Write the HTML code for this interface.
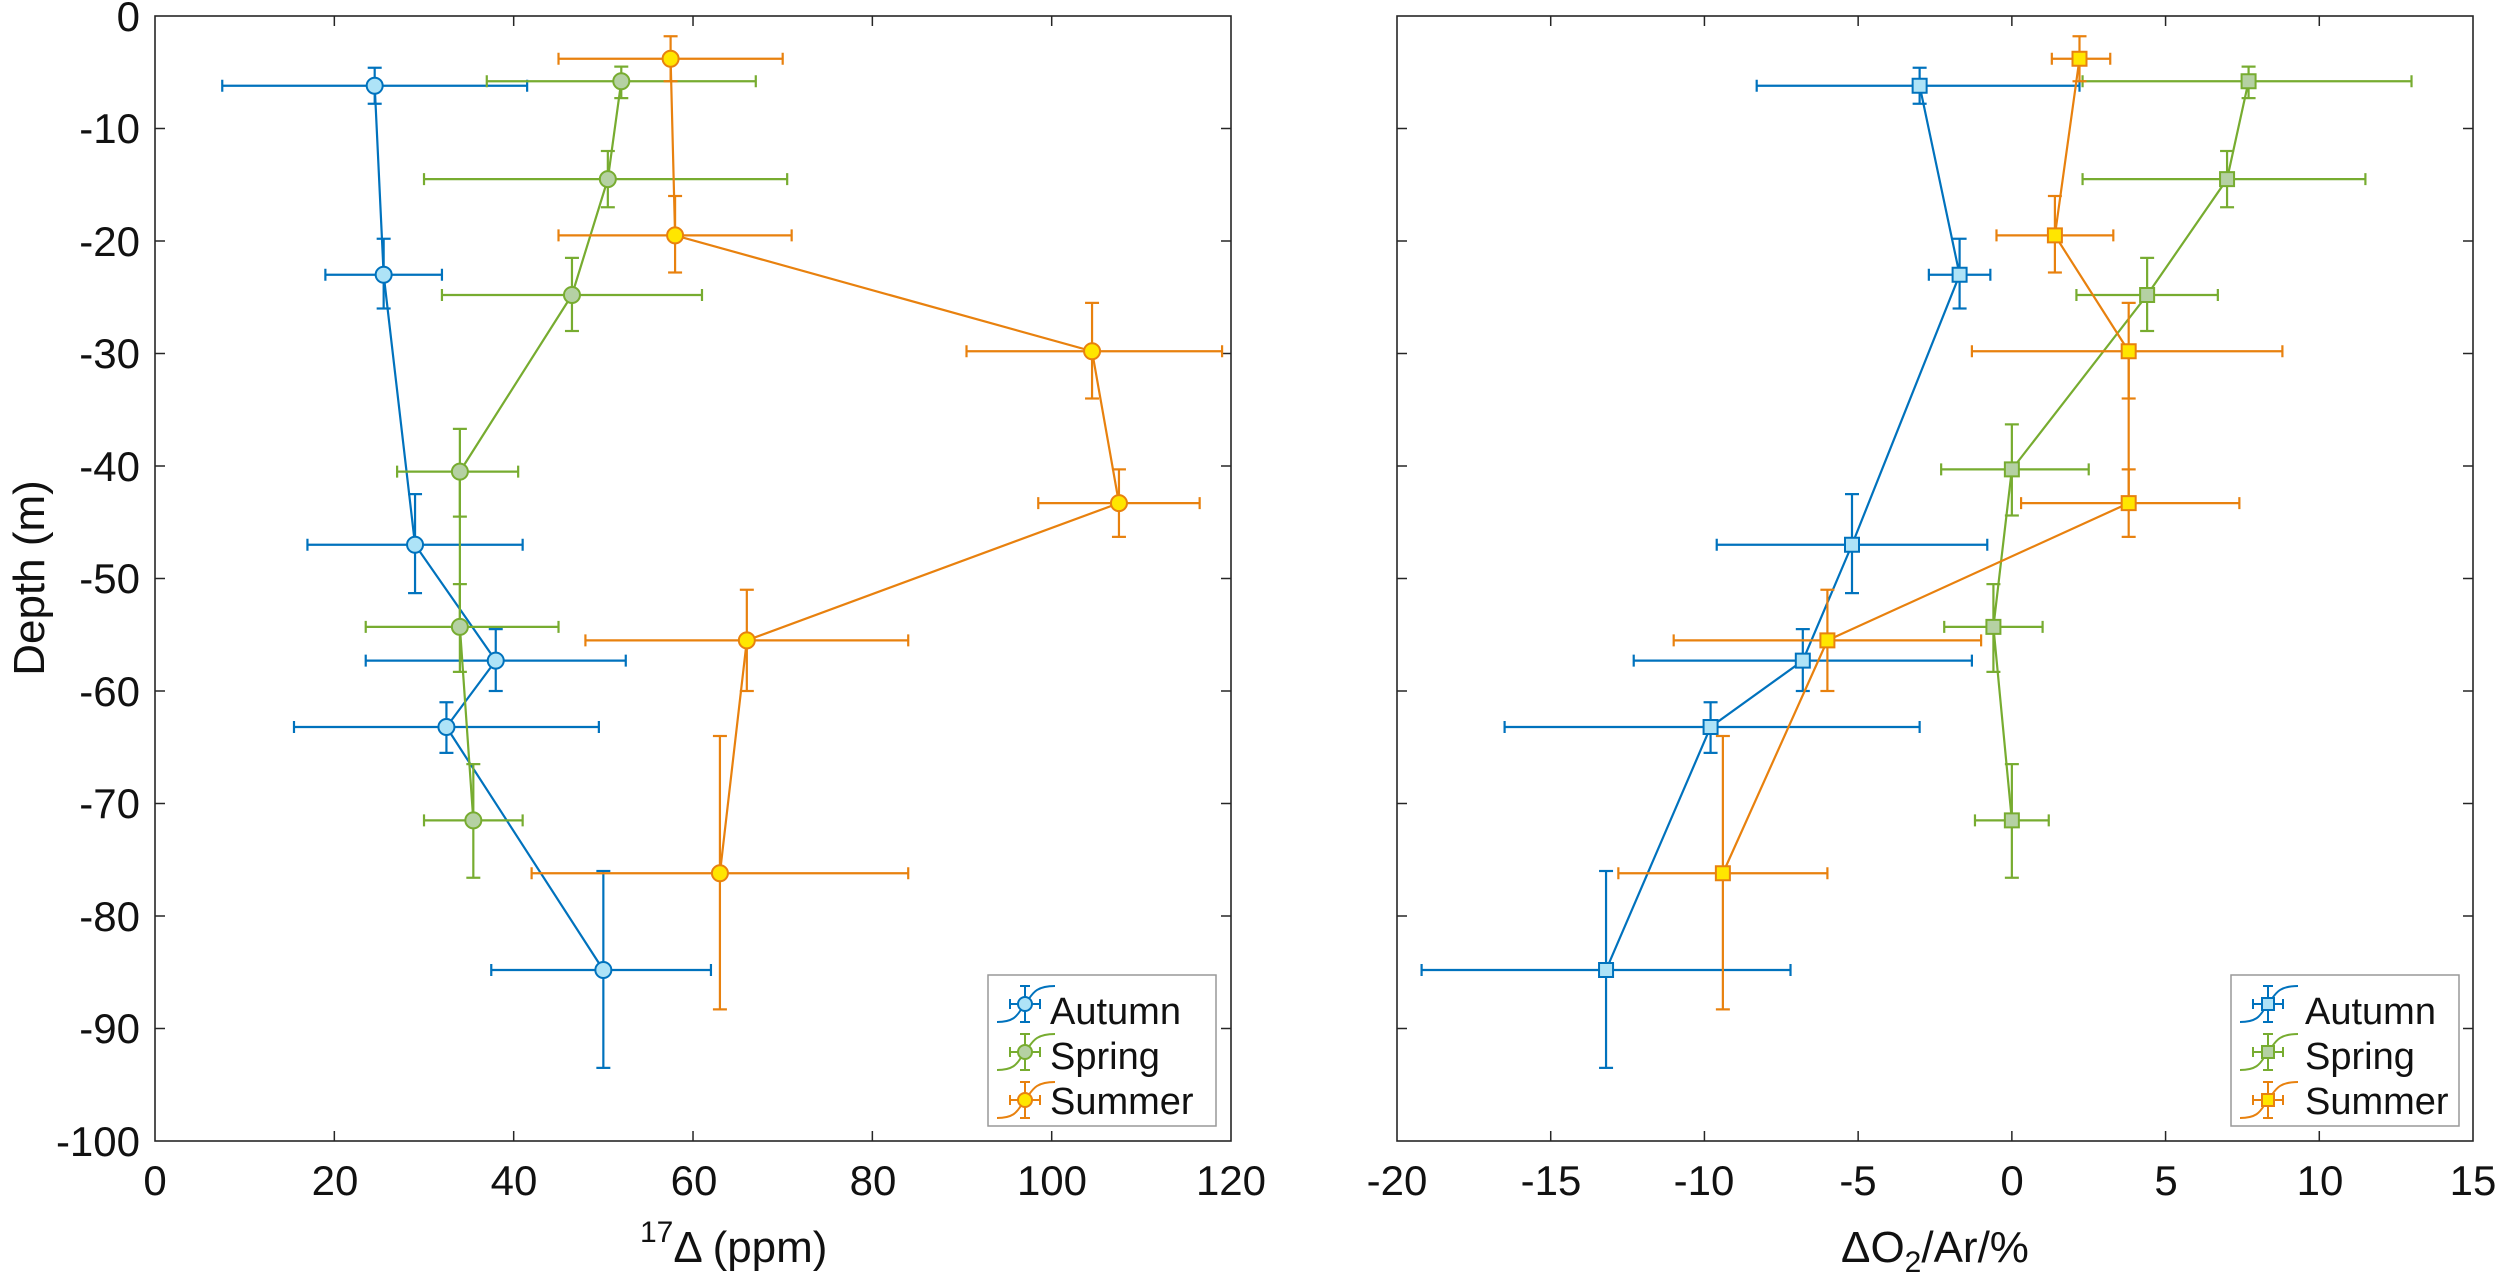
<!DOCTYPE html>
<html><head><meta charset="utf-8"><style>
body{margin:0;background:#fff}
svg{display:block}
text{font-family:"Liberation Sans",Arial,sans-serif;fill:#111}
</style></head><body>
<svg id="s" width="2500" height="1278" xmlns="http://www.w3.org/2000/svg">
<g id="axes" stroke="#262626" stroke-width="1.6" fill="none">
<rect x="155" y="16" width="1076" height="1125"/>
<rect x="1397" y="16" width="1076" height="1125"/>
</g>
<g id="ticks" stroke="#262626" stroke-width="1.5"></g>
<g id="data"></g>
<g font-size="42" text-anchor="end">
<text x="140" y="31">0</text><text x="140" y="143">-10</text><text x="140" y="256">-20</text><text x="140" y="368">-30</text><text x="140" y="481">-40</text><text x="140" y="593">-50</text><text x="140" y="706">-60</text><text x="140" y="818">-70</text><text x="140" y="931">-80</text><text x="140" y="1043">-90</text><text x="140" y="1156">-100</text>
</g>
<g font-size="42" text-anchor="middle">
<text x="155" y="1195">0</text><text x="335" y="1195">20</text><text x="514" y="1195">40</text><text x="694" y="1195">60</text><text x="873" y="1195">80</text><text x="1052" y="1195">100</text><text x="1231" y="1195">120</text>
<text x="1397" y="1195">-20</text><text x="1551" y="1195">-15</text><text x="1704" y="1195">-10</text><text x="1858" y="1195">-5</text><text x="2012" y="1195">0</text><text x="2166" y="1195">5</text><text x="2320" y="1195">10</text><text x="2473" y="1195">15</text>
</g>
<text x="640" y="1262" font-size="44"><tspan font-size="30" dy="-20">17</tspan><tspan dy="20">Δ (ppm)</tspan></text>
<text x="1935" y="1262" font-size="44" text-anchor="middle">ΔO<tspan font-size="30" dy="10">2</tspan><tspan dy="-10">/Ar/%</tspan></text>
<text transform="translate(44,578) rotate(-90)" font-size="44" text-anchor="middle">Depth (m)</text>
<g id="leg"></g>
<g font-size="38">
<text x="1050" y="1024">Autumn</text><text x="1050" y="1069">Spring</text><text x="1050" y="1114">Summer</text>
<text x="2305" y="1024">Autumn</text><text x="2305" y="1069">Spring</text><text x="2305" y="1114">Summer</text>
</g>
</svg>
<script>
const NS="http://www.w3.org/2000/svg";
function el(p,t,a){const e=document.createElementNS(NS,t);for(const k in a)e.setAttribute(k,a[k]);p.appendChild(e);return e;}
const tk=document.getElementById('ticks');
for(let i=1;i<10;i++){const y=16+i*112.5;el(tk,'line',{x1:155,y1:y,x2:165,y2:y});el(tk,'line',{x1:1221,y1:y,x2:1231,y2:y});el(tk,'line',{x1:1397,y1:y,x2:1407,y2:y});el(tk,'line',{x1:2463,y1:y,x2:2473,y2:y});}
for(let v=20;v<120;v+=20){const x=155+v*8.967;el(tk,'line',{x1:x,y1:1141,x2:x,y2:1131});el(tk,'line',{x1:x,y1:16,x2:x,y2:26});}
for(let v=-15;v<15;v+=5){const x=1397+(v+20)*30.743;el(tk,'line',{x1:x,y1:1141,x2:x,y2:1131});el(tk,'line',{x1:x,y1:16,x2:x,y2:26});}
const C={a:['#0072BD','#aee3f7'],s:['#77AC30','#b5d1a3'],u:['#E8810E','#FFE600']};
const L={a:[[24.5,-6.2,7.5,41.5,-4.6,-7.8],[25.5,-23,19,32,-19.8,-26],[29,-47,17,41,-42.5,-51.3],[38,-57.3,23.5,52.5,-54.5,-60],[32.5,-63.2,15.5,49.5,-61,-65.5],[50,-84.8,37.5,62,-76,-93.5]],
s:[[52,-5.8,37,67,-4.5,-7.3],[50.5,-14.5,30,70.5,-12,-17],[46.5,-24.8,32,61,-21.5,-28],[34,-40.5,27,40.5,-36.7,-44.5],[34,-54.3,23.5,45,-50.5,-58.3],[35.5,-71.5,30,41,-66.5,-76.6]],
u:[[57.5,-3.8,45,70,-1.8,-5.8],[58,-19.5,45,71,-16,-22.8],[104.5,-29.8,90.5,119,-25.5,-34],[107.5,-43.3,98.5,116.5,-40.3,-46.3],[66,-55.5,48,84,-51,-60],[63,-76.2,42,84,-64,-88.3]]};
const R={a:[[-3,-6.2,-8.3,2.2,-4.6,-7.8],[-1.7,-23,-2.7,-0.7,-19.8,-26],[-5.2,-47,-9.6,-0.8,-42.5,-51.3],[-6.8,-57.3,-12.3,-1.3,-54.5,-60],[-9.8,-63.2,-16.5,-3,-61,-65.5],[-13.2,-84.8,-19.2,-7.2,-76,-93.5]],
s:[[7.7,-5.8,2.3,13,-4.5,-7.3],[7,-14.5,2.3,11.5,-12,-17],[4.4,-24.8,2.1,6.7,-21.5,-28],[0,-40.3,-2.3,2.5,-36.3,-44.4],[-0.6,-54.3,-2.2,1,-50.5,-58.3],[0,-71.5,-1.2,1.2,-66.5,-76.6]],
u:[[2.2,-3.8,1.3,3.2,-1.8,-5.8],[1.4,-19.5,-0.5,3.3,-16,-22.8],[3.8,-29.8,-1.3,8.8,-25.5,-34],[3.8,-43.3,0.3,7.4,-40.3,-46.3],[-6,-55.5,-11,-1,-51,-60],[-9.4,-76.2,-12.8,-6,-64,-88.3]]};
const g=document.getElementById('data');
const Y=d=>16-d*11.25;
function draw(D,X,sq){for(const k of ['a','s','u']){const [c,f]=C[k];const pts=D[k];
 el(g,'polyline',{points:pts.map(p=>X(p[0])+','+Y(p[1])).join(' '),fill:'none',stroke:c,'stroke-width':2.2});
 for(const p of pts){const x=X(p[0]),y=Y(p[1]),x1=X(p[2]),x2=X(p[3]),y1=Y(p[4]),y2=Y(p[5]);
  const a={stroke:c,'stroke-width':2.2};
  el(g,'line',{x1:x1,y1:y,x2:x2,y2:y,...a});el(g,'line',{x1:x,y1:y1,x2:x,y2:y2,...a});
  el(g,'line',{x1:x1,y1:y-6,x2:x1,y2:y+6,...a});el(g,'line',{x1:x2,y1:y-6,x2:x2,y2:y+6,...a});
  el(g,'line',{x1:x-7,y1:y1,x2:x+7,y2:y1,...a});el(g,'line',{x1:x-7,y1:y2,x2:x+7,y2:y2,...a});
 }
 for(const p of pts){const x=X(p[0]),y=Y(p[1]);
  if(sq)el(g,'rect',{x:x-7,y:y-7,width:14,height:14,fill:f,stroke:c,'stroke-width':2});
  else el(g,'circle',{cx:x,cy:y,r:8,fill:f,stroke:c,'stroke-width':2});}
}}
draw(L,v=>155+v*8.967,false);
draw(R,v=>1397+(v+20)*30.743,true);
const lg=document.getElementById('leg');
function legend(x0,sq){el(lg,'rect',{x:x0,y:975,width:228,height:151,fill:'#fff',stroke:'#999','stroke-width':1.5});
 const ks=['a','s','u'];ks.forEach((k,i)=>{const [c,f]=C[k];const cy=1004+i*48;const cx=x0+37;
  el(lg,'path',{d:`M${x0+9} ${cy+18} C${x0+30} ${cy+18} ${x0+30} ${cy+8} ${cx} ${cy} S${x0+45} ${cy-18} ${x0+67} ${cy-18}`,fill:'none',stroke:c,'stroke-width':2});
  const a={stroke:c,'stroke-width':2};
  el(lg,'line',{x1:cx-15,y1:cy,x2:cx+15,y2:cy,...a});el(lg,'line',{x1:cx,y1:cy-18,x2:cx,y2:cy+18,...a});
  el(lg,'line',{x1:cx-15,y1:cy-5,x2:cx-15,y2:cy+5,...a});el(lg,'line',{x1:cx+15,y1:cy-5,x2:cx+15,y2:cy+5,...a});
  el(lg,'line',{x1:cx-5,y1:cy-18,x2:cx+5,y2:cy-18,...a});el(lg,'line',{x1:cx-5,y1:cy+18,x2:cx+5,y2:cy+18,...a});
  if(sq)el(lg,'rect',{x:cx-6,y:cy-6,width:12,height:12,fill:f,stroke:c,'stroke-width':2});
  else el(lg,'circle',{cx:cx,cy:cy,r:7,fill:f,stroke:c,'stroke-width':2});
 });}
legend(988,false);legend(2231,true);
</script>
</body></html>
